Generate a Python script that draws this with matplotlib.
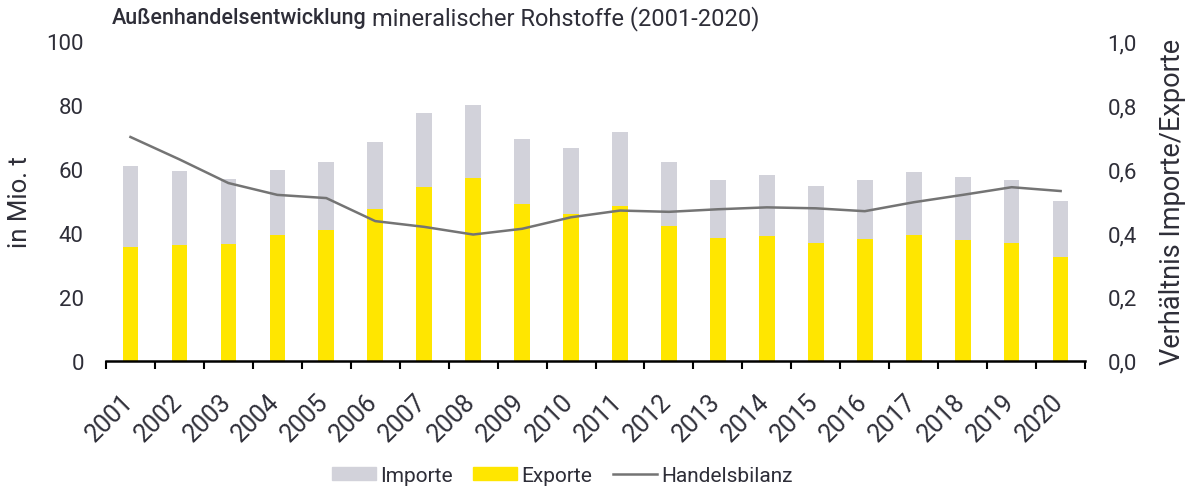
import matplotlib.pyplot as plt
from matplotlib.lines import Line2D
from matplotlib.patches import Patch
import numpy as np

plt.rcParams['font.family'] = ['Roboto', 'DejaVu Sans']

years = [str(y) for y in range(2001, 2021)]
# exports and stacked totals in Mio. t
exporte = [35.7, 36.3, 36.5, 39.2, 41.0, 47.6, 54.5, 57.2, 49.0, 45.9,
           48.5, 42.3, 38.3, 39.1, 37.0, 38.2, 39.3, 37.8, 36.7, 32.6]
gesamt = [60.8, 59.3, 56.9, 59.8, 62.2, 68.3, 77.4, 80.0, 69.4, 66.6,
          71.6, 62.2, 56.7, 58.0, 54.8, 56.4, 59.0, 57.4, 56.7, 49.9]
importe = [round(g - e, 1) for g, e in zip(gesamt, exporte)]
# Verhältnis Importe/Exporte
handelsbilanz = [0.700, 0.630, 0.556, 0.519, 0.509, 0.437, 0.419, 0.395, 0.413, 0.449,
                 0.470, 0.466, 0.474, 0.480, 0.477, 0.468, 0.496, 0.519, 0.543, 0.531]

text_col = '#2e2e38'
grey = '#d2d2da'
yellow = '#ffe600'
line_col = '#747474'

fig = plt.figure(figsize=(11.99, 4.89), dpi=100)
ax = fig.add_axes([0.0884, 0.26, 0.8166, 0.654])
x = np.arange(len(years))

ax.bar(x, exporte, width=0.32, color=yellow, zorder=2)
ax.bar(x, importe, width=0.32, bottom=exporte, color=grey, zorder=2)

ax.set_xlim(-0.5, len(years) - 0.5)
ax.set_ylim(0, 100)
ax.set_yticks(range(0, 101, 20))
ax.set_xticks(x - 0.2)
ax.set_xticklabels(years, rotation=45, ha='right', rotation_mode='anchor')
ax.set_xticks(np.arange(-0.5, len(years)), minor=True)
ax.tick_params(axis='x', which='major', length=0, pad=20, labelsize=18, labelcolor=text_col)
ax.tick_params(axis='x', which='minor', length=6, width=1.5, color='black', direction='out')
ax.tick_params(axis='y', length=0, labelsize=16, labelcolor=text_col, pad=16)
for s in ['top', 'right', 'left']:
    ax.spines[s].set_visible(False)
ax.spines['bottom'].set_linewidth(1.8)
ax.spines['bottom'].set_zorder(3)
ax.set_ylabel('in Mio. t', fontsize=18.5, color=text_col, labelpad=10)

ax2 = ax.twinx()
ax2.plot(x, handelsbilanz, color=line_col, linewidth=1.8, zorder=3)
ax2.set_ylim(0, 1)
ax2.set_yticks(np.arange(0, 1.01, 0.2))
ax2.set_yticklabels([f'{v:.1f}'.replace('.', ',') for v in np.arange(0, 1.01, 0.2)])
ax2.tick_params(axis='y', length=0, labelsize=16, labelcolor=text_col, pad=16)
for s in ['top', 'right', 'left', 'bottom']:
    ax2.spines[s].set_visible(False)
ax2.set_ylabel('Verhältnis Importe/Exporte', fontsize=19.5, color=text_col, labelpad=16)

# title: bold part followed by regular part
t1 = fig.text(0.093, 0.962, 'Außenhandelsentwicklung', fontsize=15.5, fontweight='medium',
              color=text_col, ha='left', va='center')
fig.canvas.draw()
bb = t1.get_window_extent(fig.canvas.get_renderer())
x_end = bb.x1 / fig.bbox.width
fig.text(x_end + 0.005, 0.962, 'mineralischer Rohstoffe (2001-2020)', fontsize=17,
         fontweight='normal', color=text_col, ha='left', va='center')

handles = [Patch(color=grey), Patch(color=yellow), Line2D([0], [0], color=line_col, lw=1.8)]
fig.legend(handles, ['Importe', 'Exporte', 'Handelsbilanz'], loc='center',
           bbox_to_anchor=(0.469, 0.026), ncol=3, frameon=False, fontsize=15,
           labelcolor=text_col, handlelength=2.1, handleheight=0.6, columnspacing=1.0,
           handletextpad=0.2)

fig.savefig('out.png', dpi=100)
